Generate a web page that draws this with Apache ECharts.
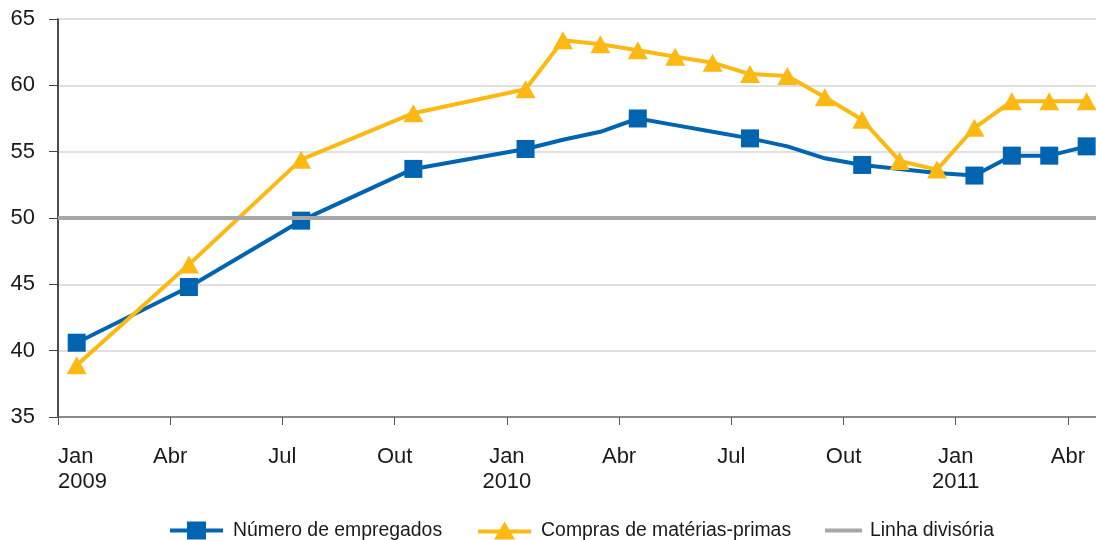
<!DOCTYPE html>
<html>
<head>
<meta charset="utf-8">
<title>Número de empregados x Compras de matérias-primas</title>
<script src="https://cdn.jsdelivr.net/npm/echarts@6/dist/echarts.min.js"></script>
<style>
  html, body { margin: 0; padding: 0; background: #fff; }
  #chart { width: 1096px; height: 540px; }
</style>
</head>
<body>
<div id="chart"></div>
<script>
// meses de jan/2009 a abr/2011
const months = [
  "2009-01", "2009-02", "2009-03", "2009-04", "2009-05", "2009-06",
  "2009-07", "2009-08", "2009-09", "2009-10", "2009-11", "2009-12",
  "2010-01", "2010-02", "2010-03", "2010-04", "2010-05", "2010-06",
  "2010-07", "2010-08", "2010-09", "2010-10", "2010-11", "2010-12",
  "2011-01", "2011-02", "2011-03", "2011-04",
];
const empregados = [
  40.6, null, null, 44.8, null, null, 49.8, null, null, 53.7, null, null,
  55.2, 55.9, 56.5, 57.5, 57.0, 56.5, 56.0, 55.4, 54.5, 54.0, 53.7, 53.4,
  53.2, 54.7, 54.7, 55.4,
];
const materiasPrimas = [
  38.9, null, null, 46.5, null, null, 54.4, null, null, 57.9, null, null,
  59.7, 63.4, 63.1, 62.65, 62.15, 61.7, 60.85, 60.7, 59.1, 57.4, 54.3, 53.65,
  56.8, 58.8, 58.8, 58.8,
];
const linhaDivisoria = 50;
const tickLabels = ["Jan\n2009", "Abr", "Jul", "Out", "Jan\n2010", "Abr", "Jul", "Out", "Jan\n2011", "Abr"];
const yTicks = [35, 40, 45, 50, 55, 60, 65];

const BLUE = "#0064b1";
const YELLOW = "#fdb913";
const GREY = "#a7a7aa";

// x = indice do mes + 0.5, para que os ticks caiam entre os meses
function toPoints(values, withMarker) {
  const pts = [];
  values.forEach((v, i) => {
    if (v === null) return;
    const item = { value: [i + 0.5, v] };
    if (withMarker && !withMarker(i)) item.symbol = "none";
    pts.push(item);
  });
  return pts;
}

const chart = echarts.init(document.getElementById("chart"));
chart.setOption({
  animation: false,
  textStyle: { fontFamily: "Liberation Sans, Arial, sans-serif" },
  grid: { left: 58, right: 0, top: 19, bottom: 123 },
  legend: [
    {
      left: 170,
      top: 521,
      padding: 0,
      itemWidth: 53,
      itemHeight: 18,
      itemGap: 36,
      textStyle: { fontSize: 19.4, color: "#1a1a1a", padding: [0, 0, 0, 5] },
      data: [
        { name: "Número de empregados", icon: "path://M0,7h53v4H0z M17,0h19v18H17z" },
        { name: "Compras de matérias-primas", icon: "path://M0,8h53v4H0z M26.5,0L37,18H16z" },
      ],
    },
    {
      left: 825,
      top: 521,
      padding: 0,
      itemWidth: 37,
      itemHeight: 4,
      textStyle: { fontSize: 19.4, color: "#1a1a1a", padding: [0, 0, 0, 3] },
      data: [{ name: "Linha divisória", icon: "path://M0,0h37v4H0z" }],
    },
  ],
  xAxis: {
    type: "value",
    min: 0,
    max: months.length - 0.25,
    interval: 3,
    axisLine: { lineStyle: { color: "#6f6f6f", width: 1.5 } },
    axisTick: { length: 8, lineStyle: { color: "#555" } },
    splitLine: { show: false },
    axisLabel: {
      fontSize: 22,
      lineHeight: 25,
      color: "#1a1a1a",
      margin: 27,
      showMaxLabel: false,
      alignMinLabel: "left",
      formatter: (v) => (v % 3 === 0 ? tickLabels[v / 3] || "" : ""),
    },
  },
  yAxis: {
    type: "value",
    min: yTicks[0],
    max: yTicks[yTicks.length - 1],
    interval: 5,
    axisLine: { show: true, lineStyle: { color: "#111", width: 1.5 } },
    axisTick: { show: true, length: 9, lineStyle: { color: "#444" } },
    splitLine: { lineStyle: { color: "#d6d6d6", width: 1.5 } },
    axisLabel: { fontSize: 22, color: "#1a1a1a", margin: 23 },
  },
  series: [
    {
      name: "Linha divisória",
      type: "line",
      data: [],
      symbol: "none",
      itemStyle: { color: GREY },
      lineStyle: { color: GREY, width: 4 },
      markLine: {
        silent: true,
        symbol: "none",
        label: { show: false },
        lineStyle: { color: GREY, width: 4, type: "solid" },
        data: [{ yAxis: linhaDivisoria }],
      },
    },
    {
      name: "Número de empregados",
      type: "line",
      connectNulls: true,
      symbol: "rect",
      symbolSize: 18,
      itemStyle: { color: BLUE },
      lineStyle: { color: BLUE, width: 4 },
      data: toPoints(empregados, (i) => i % 3 === 0 || i >= 24),
    },
    {
      name: "Compras de matérias-primas",
      type: "line",
      connectNulls: true,
      symbol: "triangle",
      symbolSize: [20, 18],
      itemStyle: { color: YELLOW },
      lineStyle: { color: YELLOW, width: 4 },
      data: toPoints(materiasPrimas),
    },
  ],
});
</script>
</body>
</html>
